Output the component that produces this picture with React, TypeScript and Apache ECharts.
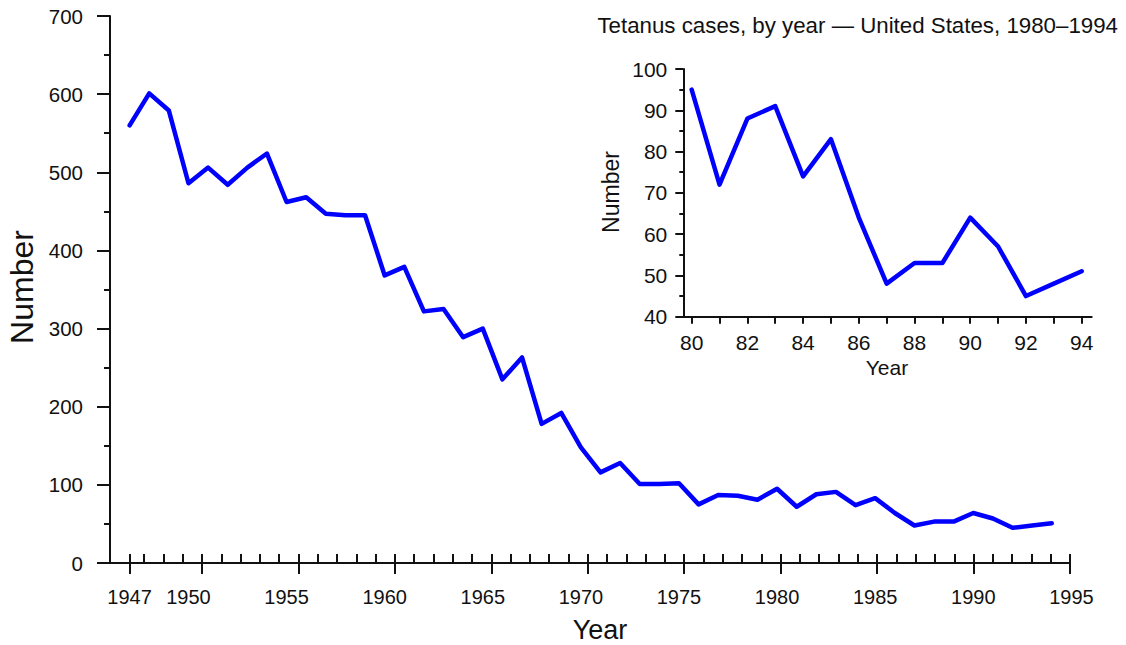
import React, { useEffect, useRef } from "react";
import * as echarts from "echarts";

// ---- data ----
const years = [
  1947, 1948, 1949, 1950, 1951, 1952, 1953, 1954, 1955, 1956, 1957, 1958, 1959,
  1960, 1961, 1962, 1963, 1964, 1965, 1966, 1967, 1968, 1969, 1970, 1971, 1972,
  1973, 1974, 1975, 1976, 1977, 1978, 1979, 1980, 1981, 1982, 1983, 1984, 1985,
  1986, 1987, 1988, 1989, 1990, 1991, 1992, 1993, 1994,
];
const cases = [
  560, 601, 579, 486, 506, 484, 506, 524, 462, 468, 447, 445, 445,
  368, 379, 322, 325, 289, 300, 235, 263, 178, 192, 148, 116, 128,
  101, 101, 102, 75, 87, 86, 81, 95, 72, 88, 91, 74, 83,
  64, 48, 53, 53, 64, 57, 45, 48, 51,
];
const mainLabelYears = [1947, 1950, 1955, 1960, 1965, 1970, 1975, 1980, 1985, 1990, 1995];
const mainTickLabels = ["1947", "1950", "1955", "1960", "1965", "1970", "1975", "1980", "1985", "1990", "1995"];
// tick marks of the printed year axis (its own scale in the original figure)
const tickAxisMinorYears = [
  1947, 1948, 1949, 1950, 1951, 1952, 1953, 1954, 1955, 1956, 1957, 1958, 1959,
  1960, 1961, 1962, 1963, 1964, 1965, 1966, 1967, 1968, 1969, 1970, 1971, 1972,
  1973, 1974, 1975, 1976, 1977, 1978, 1979, 1980, 1981, 1982, 1983, 1984, 1985,
  1986, 1987, 1988, 1989, 1990, 1991, 1992, 1993, 1994, 1995,
];
const tickAxisFirstMajor = 1946.23;
const tickAxisMajorYears = [1950, 1955, 1960, 1965, 1970, 1975, 1980, 1985, 1990, 1995];

const insetStartYear = 1980;
const insetTickYears = [1980, 1981, 1982, 1983, 1984, 1985, 1986, 1987, 1988, 1989, 1990, 1991, 1992, 1993, 1994];
const insetLabelYears = [1980, 1982, 1984, 1986, 1988, 1990, 1992, 1994];
const insetTickLabels = ["80", "82", "84", "86", "88", "90", "92", "94"];

const title = "Tetanus cases, by year \u2014 United States, 1980\u20131994";

const FONT = "'Liberation Sans', Arial, Helvetica, sans-serif";
const INK = "#111";

export default function App() {
  const ref = useRef<HTMLDivElement>(null);
  useEffect(() => {
    if (!ref.current) return;
    const chart = echarts.init(ref.current, null, { renderer: "svg" });
    const mainData = years.map((y, i) => [y, cases[i]]);
    const insetData = years
      .map((y, i) => [y, cases[i]])
      .filter((d) => d[0] >= insetStartYear);

    const axisLine = { show: true, lineStyle: { color: INK, width: 2 } };
    const tickStyle = { color: INK, width: 2 };

    chart.setOption({
      animation: false,
      backgroundColor: "#fff",
      textStyle: { fontFamily: FONT },
      grid: [
        { left: 110, top: 16, width: 981, height: 547, outerBoundsMode: "none" },
        { left: 110, top: 16, width: 960, height: 547, outerBoundsMode: "none" },
        { left: 683.3, top: 69, width: 408.4, height: 247.7, outerBoundsMode: "none" },
      ],
      xAxis: [
        {
          gridIndex: 0, type: "value", min: 1946, max: 1996, position: "bottom",
          axisLine: { show: false }, axisTick: { show: false }, splitLine: { show: false },
          axisLabel: {
            customValues: mainLabelYears,
            formatter: (v: number) => mainTickLabels[mainLabelYears.indexOf(Math.round(v))] ?? "",
            fontSize: 20, color: INK, fontFamily: FONT, margin: 24,
          },
        },
        {
          gridIndex: 1, type: "value", min: 1945.23, max: 1995, position: "bottom",
          axisLine, splitLine: { show: false },
          axisTick: { show: true, inside: true, length: 9, lineStyle: tickStyle,
            customValues: [tickAxisFirstMajor, ...tickAxisMinorYears] },
          axisLabel: { show: false },
        },
        {
          gridIndex: 1, type: "value", min: 1945.23, max: 1995, position: "bottom",
          axisLine: { show: false }, splitLine: { show: false },
          axisTick: { show: true, inside: false, length: 11, lineStyle: tickStyle,
            customValues: [tickAxisFirstMajor, ...tickAxisMajorYears] },
          axisLabel: { show: false },
        },
        {
          gridIndex: 2, type: "value", min: 1979.7, max: 1994.36, position: "bottom",
          axisLine, splitLine: { show: false },
          axisTick: { show: true, inside: false, length: 7, lineStyle: tickStyle, customValues: insetTickYears },
          axisLabel: {
            customValues: insetLabelYears,
            formatter: (v: number) => insetTickLabels[insetLabelYears.indexOf(Math.round(v))] ?? "",
            fontSize: 21, color: INK, fontFamily: FONT, margin: 15,
          },
        },
      ],
      yAxis: [
        {
          gridIndex: 0, type: "value", min: 0, max: 700, interval: 100,
          axisLine, splitLine: { show: false },
          axisTick: { show: true, length: 13, lineStyle: tickStyle },
          minorTick: { show: true, splitNumber: 2, length: 6, lineStyle: tickStyle },
          minorSplitLine: { show: false },
          axisLabel: { fontSize: 20.5, color: INK, fontFamily: FONT, margin: 27 },
        },
        { gridIndex: 1, type: "value", min: 0, max: 700, show: false },
        {
          gridIndex: 2, type: "value", min: 40, max: 100, interval: 10,
          axisLine, splitLine: { show: false },
          axisTick: { show: true, length: 8, lineStyle: tickStyle },
          minorTick: { show: true, splitNumber: 2, length: 4, lineStyle: tickStyle },
          minorSplitLine: { show: false },
          axisLabel: { fontSize: 21, color: INK, fontFamily: FONT, margin: 16 },
        },
      ],
      series: [
        {
          type: "line", xAxisIndex: 0, yAxisIndex: 0, data: mainData, symbol: "none",
          lineStyle: { color: "#0000ff", width: 4.5, cap: "round", join: "round" },
        },
        {
          type: "line", xAxisIndex: 3, yAxisIndex: 2, data: insetData, symbol: "none",
          lineStyle: { color: "#0000ff", width: 4.5, cap: "round", join: "round" },
        },
      ],
      graphic: [
        { type: "text", x: 1118, y: 25, style: { text: title, fontSize: 22.3, fontFamily: FONT, fill: INK, textAlign: "right", textVerticalAlign: "middle" } },
        { type: "text", x: 22, y: 287, rotation: Math.PI / 2, style: { text: "Number", fontSize: 32, fontFamily: FONT, fill: INK, textAlign: "center", textVerticalAlign: "middle" } },
        { type: "text", x: 600, y: 630, style: { text: "Year", fontSize: 27, fontFamily: FONT, fill: INK, textAlign: "center", textVerticalAlign: "middle" } },
        { type: "text", x: 611, y: 192, rotation: Math.PI / 2, style: { text: "Number", fontSize: 23, fontFamily: FONT, fill: INK, textAlign: "center", textVerticalAlign: "middle" } },
        { type: "text", x: 887, y: 367, style: { text: "Year", fontSize: 21, fontFamily: FONT, fill: INK, textAlign: "center", textVerticalAlign: "middle" } },
      ],
    });
    return () => chart.dispose();
  }, []);
  return (
    <div
      ref={ref}
      style={{ position: "absolute", left: 0, top: 0, width: 1126, height: 645, background: "#fff" }}
    />
  );
}
